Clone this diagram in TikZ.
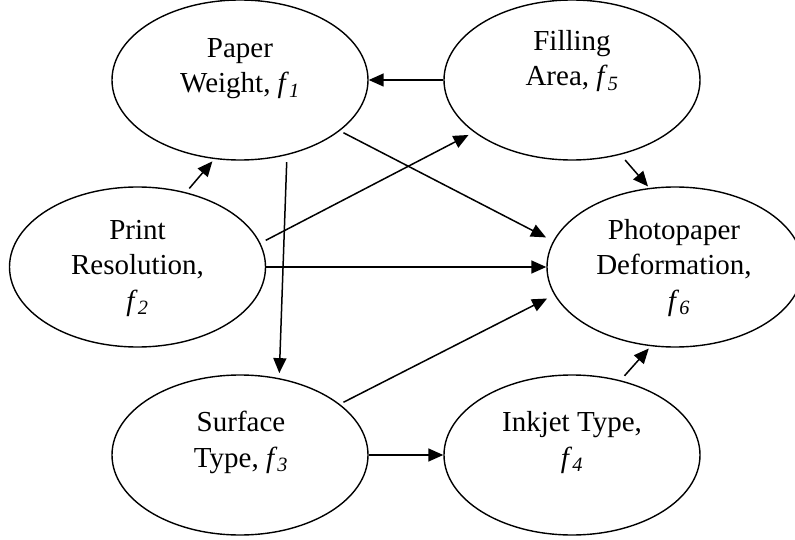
\documentclass[tikz,border=0pt]{standalone}
\usepackage{fontspec}
\setmainfont{Liberation Serif}
\usetikzlibrary{shapes.geometric,arrows.meta}

\tikzset{
  factor/.style={ellipse, draw, line width=1.4pt, minimum width=256pt,
    minimum height=160pt, inner sep=0pt},
  % anchored at the baseline of the last line
  caption/.style={anchor=base, align=center, inner sep=0pt,
    font=\fontsize{29}{35.5}\selectfont},
  link/.style={line width=1.5pt, -{Triangle[length=15pt,width=13pt]}}
}
\newcommand{\fsub}[1]{\textit{f}\textsubscript{\textit{#1}}}

\begin{document}
\begin{tikzpicture}[x=1pt,y=-1pt]
  \useasboundingbox (0,0) rectangle (795,540);
  \clip (0,0) rectangle (795,540);

  % factor ellipses
  \node[factor] (pw) at (240,80) {};
  \node[factor] (fa) at (572,80) {};
  \node[factor] (pr) at (137.5,267) {};
  \node[factor] (pd) at (675,267) {};
  \node[factor] (st) at (240,455) {};
  \node[factor] (it) at (572,455) {};

  % captions
  \node[caption] (pwt) at (240,93) {Paper\\Weight, \fsub{1}};
  \node[caption] (fat) at (572,86) {Filling\\Area, \fsub{5}};
  \node[caption] (prt) at (137.5,310) {Print\\Resolution,\\\fsub{2}};
  \node[caption] (pdt) at (674,310) {Photopaper\\Deformation,\\\hspace*{10pt}\fsub{6}};
  \node[caption] (stt) at (241,467) {Surface\\Type, \fsub{3}};
  \node[caption] (itt) at (572,467) {Inkjet Type,\\\fsub{4}};

  % influences
  \draw[link] (fa.west) -- (pw.east);
  \draw[link, shorten <=5pt, shorten >=3pt] (pr.57) -- (pw.-108);
  \draw[link, shorten <=4pt, shorten >=8pt] (pw.-27.5) -- (pd.168.3);
  \draw[link, shorten <=6pt, shorten >=6pt] (pr.11.5) -- (fa.-152.6);
  \draw[link] (pr.east) -- (pd.west);
  \draw[link, shorten <=7pt, shorten >=5pt] (pw.-58.3) -- (st.63.7);
  \draw[link, shorten <=4pt, shorten >=8pt] (st.27.9) -- (pd.-167.8);
  \draw[link] (st.east) -- (it.west);
  \draw[link, shorten <=6pt, shorten >=3pt] (it.57.5) -- (pd.-107.6);
  \draw[link, shorten <=7pt, shorten >=2pt] (fa.-57.8) -- (pd.108.6);
\end{tikzpicture}
\end{document}
